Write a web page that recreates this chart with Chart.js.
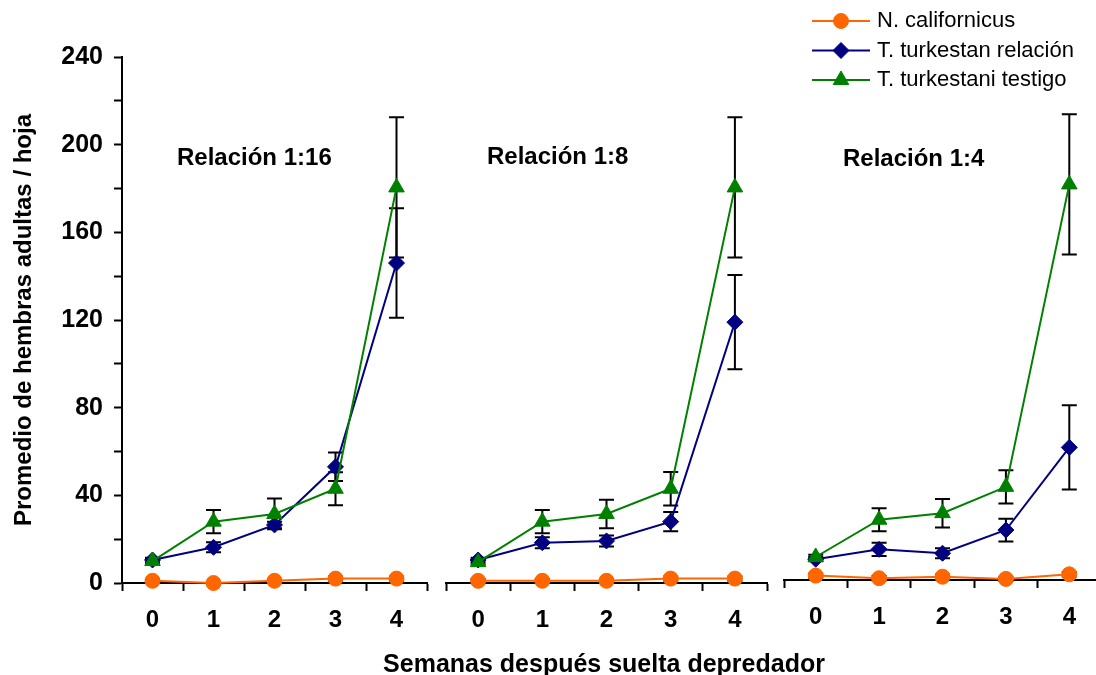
<!DOCTYPE html>
<html>
<head>
<meta charset="utf-8">
<script src="https://cdn.jsdelivr.net/npm/chart.js@4.4.1/dist/chart.umd.min.js"></script>
<style>
  html, body { margin: 0; padding: 0; background: #fff; overflow: hidden; width: 1096px; height: 675px; }
  .panel { position: absolute; }
  .ptitle { position: absolute; font: bold 24px 'Liberation Sans', Arial, sans-serif; line-height: 28px; color: #000; white-space: nowrap; }
  #xtitle { position: absolute; left: 304px; width: 600px; top: 648px; text-align: center; font: bold 25px 'Liberation Sans', Arial, sans-serif; line-height: 30px; color: #000; white-space: nowrap; }
</style>
</head>
<body>
<div class="panel" style="left:0px;top:0px;width:440px;height:675px"><canvas id="c1"></canvas></div>
<div class="panel" style="left:430px;top:0px;width:350px;height:675px"><canvas id="c2"></canvas></div>
<div class="panel" style="left:770px;top:-3px;width:345px;height:675px"><canvas id="c3"></canvas></div>
<div class="ptitle" id="t1" style="left:177px;top:143px"></div>
<div class="ptitle" id="t2" style="left:487px;top:142px"></div>
<div class="ptitle" id="t3" style="left:843px;top:144px"></div>
<div id="xtitle"></div>
<script>
const semanas = ['0', '1', '2', '3', '4'];
const nombres = ['N. californicus', 'T. turkestan relación', 'T. turkestani testigo'];
const titulos = ['Relación 1:16', 'Relación 1:8', 'Relación 1:4'];
const tituloX = 'Semanas después suelta depredador';
const tituloY = 'Promedio de hembras adultas / hoja';

// Relacion 1:16
const calif16 = [1, 0, 1, 2, 2];
const calif16Err = [0.8, 0.5, 0.8, 1, 1];
const relac16 = [10.5, 16.3, 26.5, 53, 146];
const relac16Err = [1, 2.3, 1.5, 6.5, 25];
const testigo16 = [10, 28, 31.5, 43, 180.5];
const testigo16Err = [1, 5.3, 7, 7.5, 32];

// Relacion 1:8
const calif8 = [1, 1, 1, 2, 2];
const calif8Err = [0.8, 0.8, 0.8, 1, 1];
const relac8 = [10.5, 18.4, 19.2, 28, 119];
const relac8Err = [1, 2.5, 2.5, 4.4, 21.5];
const testigo8 = [9.5, 28, 31.5, 43, 180.5];
const testigo8Err = [1, 5.3, 6.5, 7.6, 32];

// Relacion 1:4
const calif4 = [2, 0.8, 1.5, 0.5, 2.6];
const calif4Err = [1, 1, 1, 1, 1];
const relac4 = [9.5, 14, 12.2, 22.8, 60.5];
const relac4Err = [1, 3, 2.3, 5.2, 19.2];
const testigo4 = [10.5, 27.5, 30.5, 42.5, 180.5];
const testigo4Err = [1, 5.2, 6.5, 7.6, 32];

const FONT = "'Liberation Sans', Arial, sans-serif";
Chart.defaults.font.family = FONT;
Chart.defaults.color = '#000';

document.getElementById('t1').textContent = titulos[0];
document.getElementById('t2').textContent = titulos[1];
document.getElementById('t3').textContent = titulos[2];
document.getElementById('xtitle').textContent = tituloX;

// vertical error bars with caps, drawn behind the markers
const errorBars = {
  id: 'errorBars',
  beforeDatasetsDraw(chart) {
    const ctx = chart.ctx;
    const y = chart.scales.y;
    ctx.save();
    ctx.strokeStyle = '#000';
    ctx.lineWidth = 2;
    chart.data.datasets.forEach((ds, i) => {
      if (!ds.errors) return;
      chart.getDatasetMeta(i).data.forEach((pt, j) => {
        const e = ds.errors[j];
        const top = y.getPixelForValue(ds.data[j] + e);
        const bot = y.getPixelForValue(ds.data[j] - e);
        ctx.beginPath();
        ctx.moveTo(pt.x, top); ctx.lineTo(pt.x, bot);
        ctx.moveTo(pt.x - 7.5, top); ctx.lineTo(pt.x + 7.5, top);
        ctx.moveTo(pt.x - 7.5, bot); ctx.lineTo(pt.x + 7.5, bot);
        ctx.stroke();
      });
    });
    ctx.restore();
  }
};

// legend with a line through the marker, like the original
const lineLegend = {
  id: 'lineLegend',
  afterDraw(chart, args, opts) {
    if (!opts.show) return;
    const ctx = chart.ctx;
    ctx.save();
    chart.data.datasets.forEach((ds, i) => {
      const y = opts.top + i * opts.rowGap;
      ctx.strokeStyle = ds.borderColor;
      ctx.lineWidth = 2;
      ctx.beginPath();
      ctx.moveTo(opts.left, y);
      ctx.lineTo(opts.left + opts.lineLen, y);
      ctx.stroke();
      ctx.fillStyle = ds.pointBackgroundColor;
      ctx.strokeStyle = ds.pointBorderColor;
      ctx.lineWidth = 1;
      Chart.helpers.drawPoint(ctx, { pointStyle: ds.pointStyle, radius: ds.pointRadius, borderWidth: 1, rotation: 0 },
        opts.left + opts.lineLen / 2, y);
      ctx.fillStyle = '#000';
      ctx.font = '22px ' + FONT;
      ctx.textBaseline = 'middle';
      ctx.textAlign = 'left';
      ctx.fillText(ds.label, opts.left + opts.lineLen + 7, y);
    });
    ctx.restore();
  }
};

function serie(label, data, errors, color, style, radius, order) {
  return {
    label: label,
    data: data,
    errors: errors,
    borderColor: color,
    backgroundColor: color,
    pointBackgroundColor: color,
    pointBorderColor: color,
    pointStyle: style,
    pointRadius: radius,
    pointHoverRadius: radius,
    pointBorderWidth: 1,
    borderWidth: 2,
    tension: 0,
    clip: false,
    order: order
  };
}

function makePanel(id, calif, califErr, relac, relacErr, testigo, testigoErr, cfg) {
  return new Chart(document.getElementById(id), {
    type: 'line',
    data: {
      labels: semanas,
      datasets: [
        serie(nombres[0], calif, califErr, '#FF6600', 'circle', 7.5, 3),
        serie(nombres[1], relac, relacErr, '#000080', 'rectRot', 8, 2),
        serie(nombres[2], testigo, testigoErr, '#008000', 'triangle', 9, 1)
      ]
    },
    options: {
      responsive: true,
      maintainAspectRatio: false,
      animation: false,
      layout: { padding: cfg.padding },
      plugins: {
        legend: { display: false },
        tooltip: { enabled: false },
        lineLegend: cfg.legend || { show: false }
      },
      scales: {
        x: {
          type: 'category',
          offset: true,
          ticks: { color: '#000', font: { size: 24, weight: 'bold' }, padding: 15, maxRotation: 0, autoSkip: false },
          grid: { drawOnChartArea: false, offset: true, tickLength: 8, tickWidth: 2, tickColor: '#000' },
          border: { display: true, color: '#000', width: 2 },
          afterFit: s => { s.height = 92; }
        },
        y: {
          display: cfg.showY,
          min: 0,
          max: 240,
          ticks: {
            stepSize: 20,
            padding: 11,
            color: '#000',
            font: { size: 25, weight: 'bold' },
            callback: v => (v % 40 === 0 ? v : '')
          },
          grid: { drawOnChartArea: false, tickLength: 8, tickWidth: 2, tickColor: '#000' },
          border: { display: true, color: '#000', width: 2 },
          title: {
            display: cfg.showY,
            text: tituloY,
            color: '#000',
            font: { size: 24, weight: 'bold' },
            padding: { top: 10, bottom: 0 }
          },
          afterFit: s => { if (cfg.showY) s.width = 122; }
        }
      }
    },
    plugins: [errorBars, lineLegend]
  });
}

makePanel('c1', calif16, calif16Err, relac16, relac16Err, testigo16, testigo16Err,
  { showY: true, padding: { top: 57, right: 13, left: 0, bottom: 0 } });
makePanel('c2', calif8, calif8Err, relac8, relac8Err, testigo8, testigo8Err,
  { showY: false, padding: { top: 57, right: 13, left: 16, bottom: 0 } });
makePanel('c3', calif4, calif4Err, relac4, relac4Err, testigo4, testigo4Err,
  { showY: false, padding: { top: 57, right: 14, left: 14, bottom: 0 },
    legend: { show: true, left: 42, top: 24, rowGap: 29.5, lineLen: 58 } });
</script>
</body>
</html>
